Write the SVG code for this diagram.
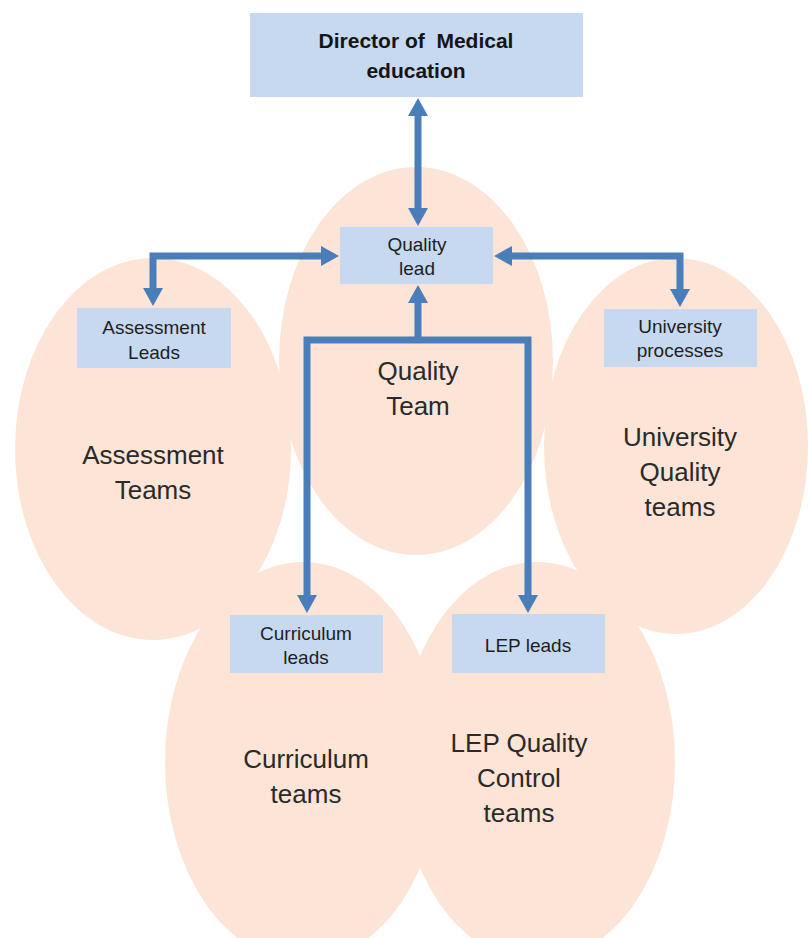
<svg xmlns="http://www.w3.org/2000/svg" width="808" height="938" viewBox="0 0 808 938">
  <defs>
    <style>
      .team { fill: #FCE4D6; }
      .box { fill: #C6D9F1; }
      .boxtxt { font-family: "Liberation Sans", Arial, sans-serif; font-size: 19px; fill: #1E1E1E; text-anchor: middle; }
      .dirtxt { font-family: "Liberation Sans", Arial, sans-serif; font-size: 21px; font-weight: bold; fill: #151515; text-anchor: middle; }
      .teamtxt { font-family: "Liberation Sans", Arial, sans-serif; font-size: 26px; fill: #2A2A2A; text-anchor: middle; }
      .conn { fill: none; stroke: #4A7EBB; stroke-width: 7; stroke-linejoin: miter; }
    </style>
    <marker id="ah" viewBox="0 0 18 20" refX="6" refY="10" markerWidth="18" markerHeight="20" markerUnits="userSpaceOnUse" orient="auto-start-reverse">
      <path d="M0,0 L18,10 L0,20 z" fill="#4A7EBB"/>
    </marker>
  </defs>
  <rect width="808" height="938" fill="#FFFFFF"/>

  <g id="team-ellipses">
    <g id="assessment-teams">
      <ellipse class="team" cx="153" cy="449" rx="138" ry="191"/>
    </g>
    <g id="university-quality-teams">
      <ellipse class="team" cx="676" cy="446" rx="132" ry="188"/>
    </g>
    <g id="curriculum-teams">
      <ellipse class="team" cx="303" cy="762" rx="138" ry="200"/>
    </g>
    <g id="lep-quality-control-teams">
      <ellipse class="team" cx="537" cy="762" rx="138" ry="200"/>
    </g>
    <g id="quality-team">
      <ellipse class="team" cx="416" cy="361" rx="137" ry="194"/>
    </g>
  </g>

  <g id="team-labels">
    <text class="teamtxt" x="418" y="380">Quality</text>
    <text class="teamtxt" x="418" y="415">Team</text>
    <text class="teamtxt" x="153" y="464">Assessment</text>
    <text class="teamtxt" x="153" y="499">Teams</text>
    <text class="teamtxt" x="680" y="446">University</text>
    <text class="teamtxt" x="680" y="481">Quality</text>
    <text class="teamtxt" x="680" y="516">teams</text>
    <text class="teamtxt" x="306" y="768">Curriculum</text>
    <text class="teamtxt" x="306" y="803">teams</text>
    <text class="teamtxt" x="519" y="752">LEP Quality</text>
    <text class="teamtxt" x="519" y="787">Control</text>
    <text class="teamtxt" x="519" y="822">teams</text>
  </g>

  <g id="connectors">
    <path class="conn" d="M418,110 L418,214" marker-start="url(#ah)" marker-end="url(#ah)"/>
    <path class="conn" d="M327,256 L153,256 L153,294" marker-start="url(#ah)" marker-end="url(#ah)"/>
    <path class="conn" d="M506,256 L680,256 L680,295" marker-start="url(#ah)" marker-end="url(#ah)"/>
    <path class="conn" d="M418,340 L418,297" marker-end="url(#ah)"/>
    <path class="conn" d="M307,601 L307,340 L528,340 L528,601" marker-start="url(#ah)" marker-end="url(#ah)"/>
  </g>

  <g id="director">
    <rect class="box" x="250" y="13" width="333" height="84"/>
    <text class="dirtxt" x="416" y="48" xml:space="preserve">Director of  Medical</text>
    <text class="dirtxt" x="416" y="78">education</text>
  </g>
  <g id="quality-lead">
    <rect class="box" x="340" y="227" width="153" height="57"/>
    <text class="boxtxt" x="417" y="251">Quality</text>
    <text class="boxtxt" x="417" y="275">lead</text>
  </g>
  <g id="assessment-leads">
    <rect class="box" x="77" y="308" width="154" height="60"/>
    <text class="boxtxt" x="154" y="334">Assessment</text>
    <text class="boxtxt" x="154" y="359">Leads</text>
  </g>
  <g id="university-processes">
    <rect class="box" x="604" y="309" width="153" height="58"/>
    <text class="boxtxt" x="680" y="333">University</text>
    <text class="boxtxt" x="680" y="357">processes</text>
  </g>
  <g id="curriculum-leads">
    <rect class="box" x="230" y="615" width="153" height="58"/>
    <text class="boxtxt" x="306" y="640">Curriculum</text>
    <text class="boxtxt" x="306" y="664">leads</text>
  </g>
  <g id="lep-leads">
    <rect class="box" x="452" y="614" width="153" height="59"/>
    <text class="boxtxt" x="528" y="652">LEP leads</text>
  </g>
</svg>
